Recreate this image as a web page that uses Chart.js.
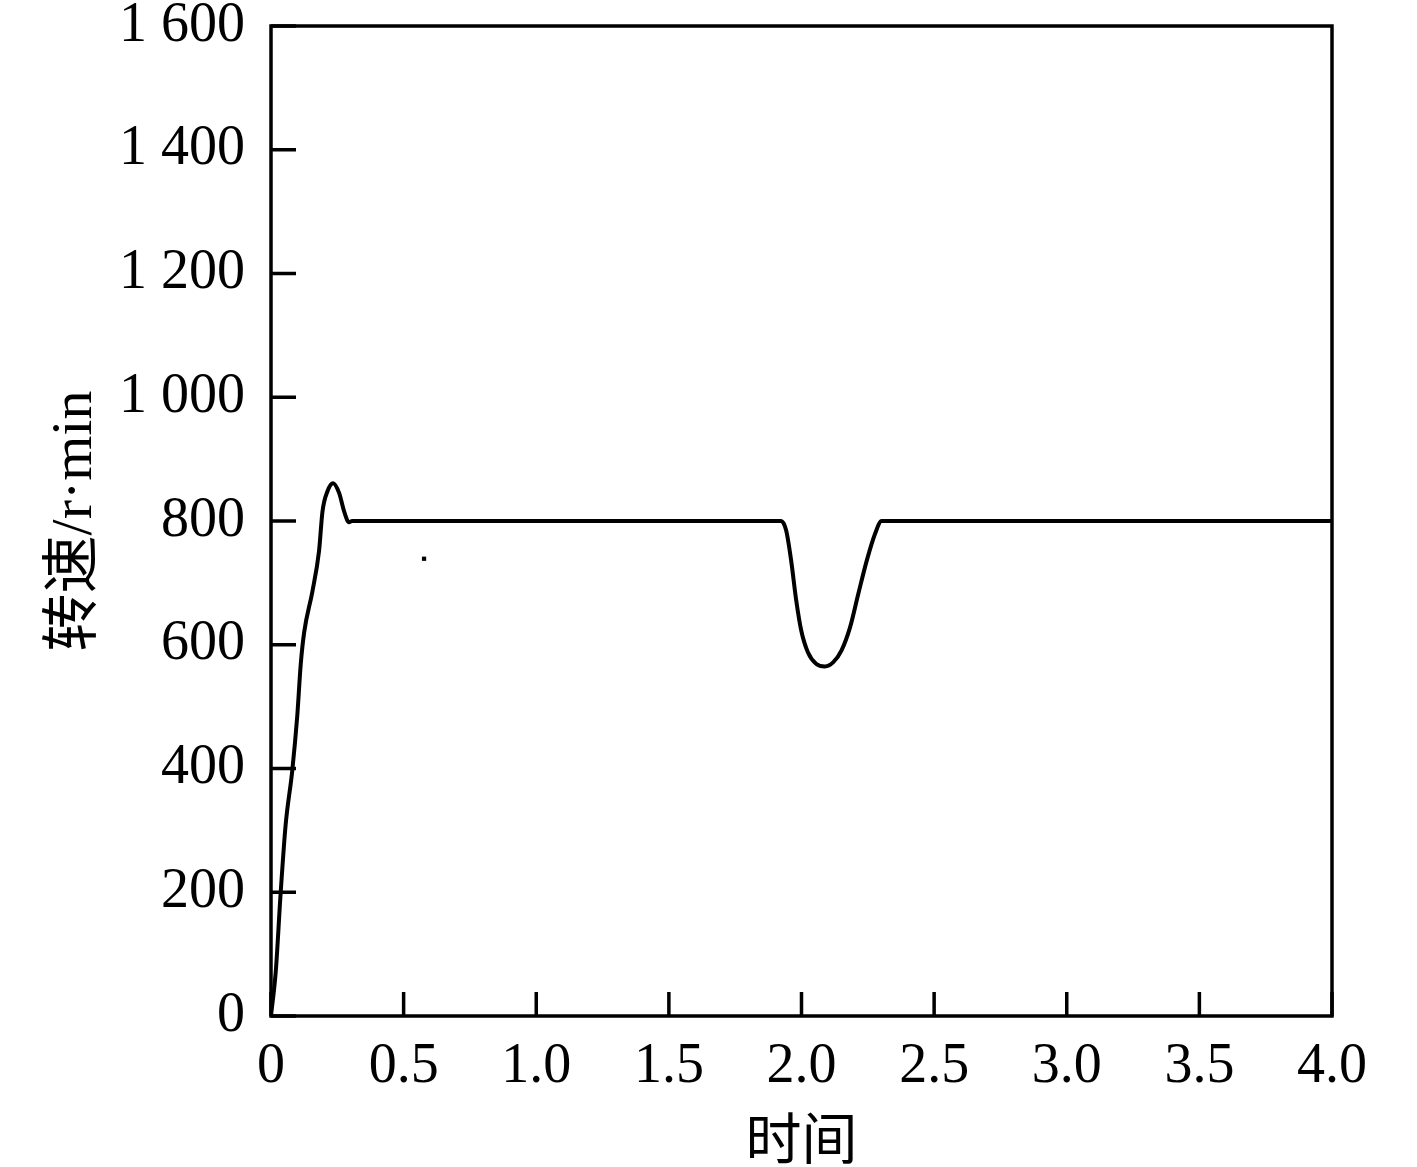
<!DOCTYPE html>
<html>
<head>
<meta charset="utf-8">
<script src="https://cdn.jsdelivr.net/npm/chart.js@4.4.1/dist/chart.umd.min.js"></script>
<style>
  body { margin: 0; background: #fff; }
  #wrap { width: 1417px; height: 1167px; }
</style>
</head>
<body>
<div id="wrap"><canvas id="speedChart"></canvas></div>
<script>
// time (s) and speed (r/min)
const times = [0, 0.018, 0.036, 0.055, 0.080, 0.099, 0.112, 0.125, 0.156, 0.181, 0.194, 0.213, 0.234, 0.257, 0.276, 0.294, 0.306,
  1.923, 1.942, 1.961, 1.980, 1.999, 2.024, 2.056, 2.088, 2.120, 2.151, 2.183, 2.214, 2.246, 2.277, 2.302, 4.0];
const speeds = [0, 72, 196, 308, 396, 485, 568, 620, 686, 751, 815, 848, 861, 845, 815, 798, 800,
  800, 785, 736, 672, 623, 588, 569, 565, 572, 591, 628, 682, 736, 779, 800, 800];

// stray mark in the plot
const dotTimes = [0.577];
const dotSpeeds = [739];

const xTickLabels = ['0', '0.5', '1.0', '1.5', '2.0', '2.5', '3.0', '3.5', '4.0'];
const yTickLabels = ['0', '200', '400', '600', '800', '1 000', '1 200', '1 400', '1 600'];

const serif = '"Liberation Serif", "Times New Roman", serif';
const cjk = '"Liberation Serif", "Noto Sans CJK SC", serif';

// box around the plot and inward tick marks
const frame = {
  id: 'frame',
  afterDraw(chart) {
    const { ctx, chartArea: a, scales } = chart;
    ctx.save();
    ctx.strokeStyle = '#000';
    ctx.lineWidth = 3.5;
    ctx.strokeRect(a.left, a.top, a.right - a.left, a.bottom - a.top);
    ctx.beginPath();
    scales.x.ticks.forEach(t => {
      const px = scales.x.getPixelForValue(t.value);
      ctx.moveTo(px, a.bottom);
      ctx.lineTo(px, a.bottom - 24);
    });
    scales.y.ticks.forEach(t => {
      const py = scales.y.getPixelForValue(t.value);
      ctx.moveTo(a.left, py);
      ctx.lineTo(a.left + 25, py);
    });
    ctx.stroke();
    ctx.restore();
  }
};

const data = {
  datasets: [
    {
      data: times.map((t, i) => ({ x: t, y: speeds[i] })),
      showLine: true,
      borderColor: '#000',
      borderWidth: 4,
      pointRadius: 0,
      cubicInterpolationMode: 'monotone',
    },
    {
      data: dotTimes.map((t, i) => ({ x: t, y: dotSpeeds[i] })),
      showLine: false,
      pointStyle: 'rect',
      pointRadius: 3,
      backgroundColor: '#000',
      borderWidth: 0,
    },
  ],
};

const config = {
  type: 'scatter',
  data: data,
  options: {
    responsive: true,
    maintainAspectRatio: false,
    animation: false,
    layout: { padding: { top: 26, right: 85, bottom: 0, left: 0 } },
    scales: {
      x: {
        min: 0,
        max: 4,
        grid: { display: false },
        border: { display: false },
        ticks: {
          stepSize: 0.5,
          color: '#000',
          padding: 10,
          maxRotation: 0,
          font: { family: serif, size: 56 },
          callback: (v) => xTickLabels[Math.round(v / 0.5)],
        },
        title: {
          display: true,
          text: '时间',
          color: '#000',
          padding: { top: 0, bottom: 0 },
          font: { family: cjk, size: 56, lineHeight: 0.8 },
        },
        afterFit(s) { s.height = 151; },
      },
      y: {
        min: 0,
        max: 1600,
        grid: { display: false },
        border: { display: false },
        ticks: {
          stepSize: 200,
          color: '#000',
          padding: 18,
          font: { family: serif, size: 56, lineHeight: 0.1 },
          callback: (v) => yTickLabels[Math.round(v / 200)],
        },
        title: {
          display: true,
          text: '转速/r·min',
          color: '#000',
          padding: { top: 47, bottom: 0 },
          font: { family: cjk, size: 58, lineHeight: 1 },
        },
        afterFit(s) { s.width = 271; },
      },
    },
    plugins: {
      legend: { display: false },
      tooltip: { enabled: false },
    },
  },
  plugins: [frame],
};

new Chart(document.getElementById('speedChart').getContext('2d'), config);
</script>
</body>
</html>
